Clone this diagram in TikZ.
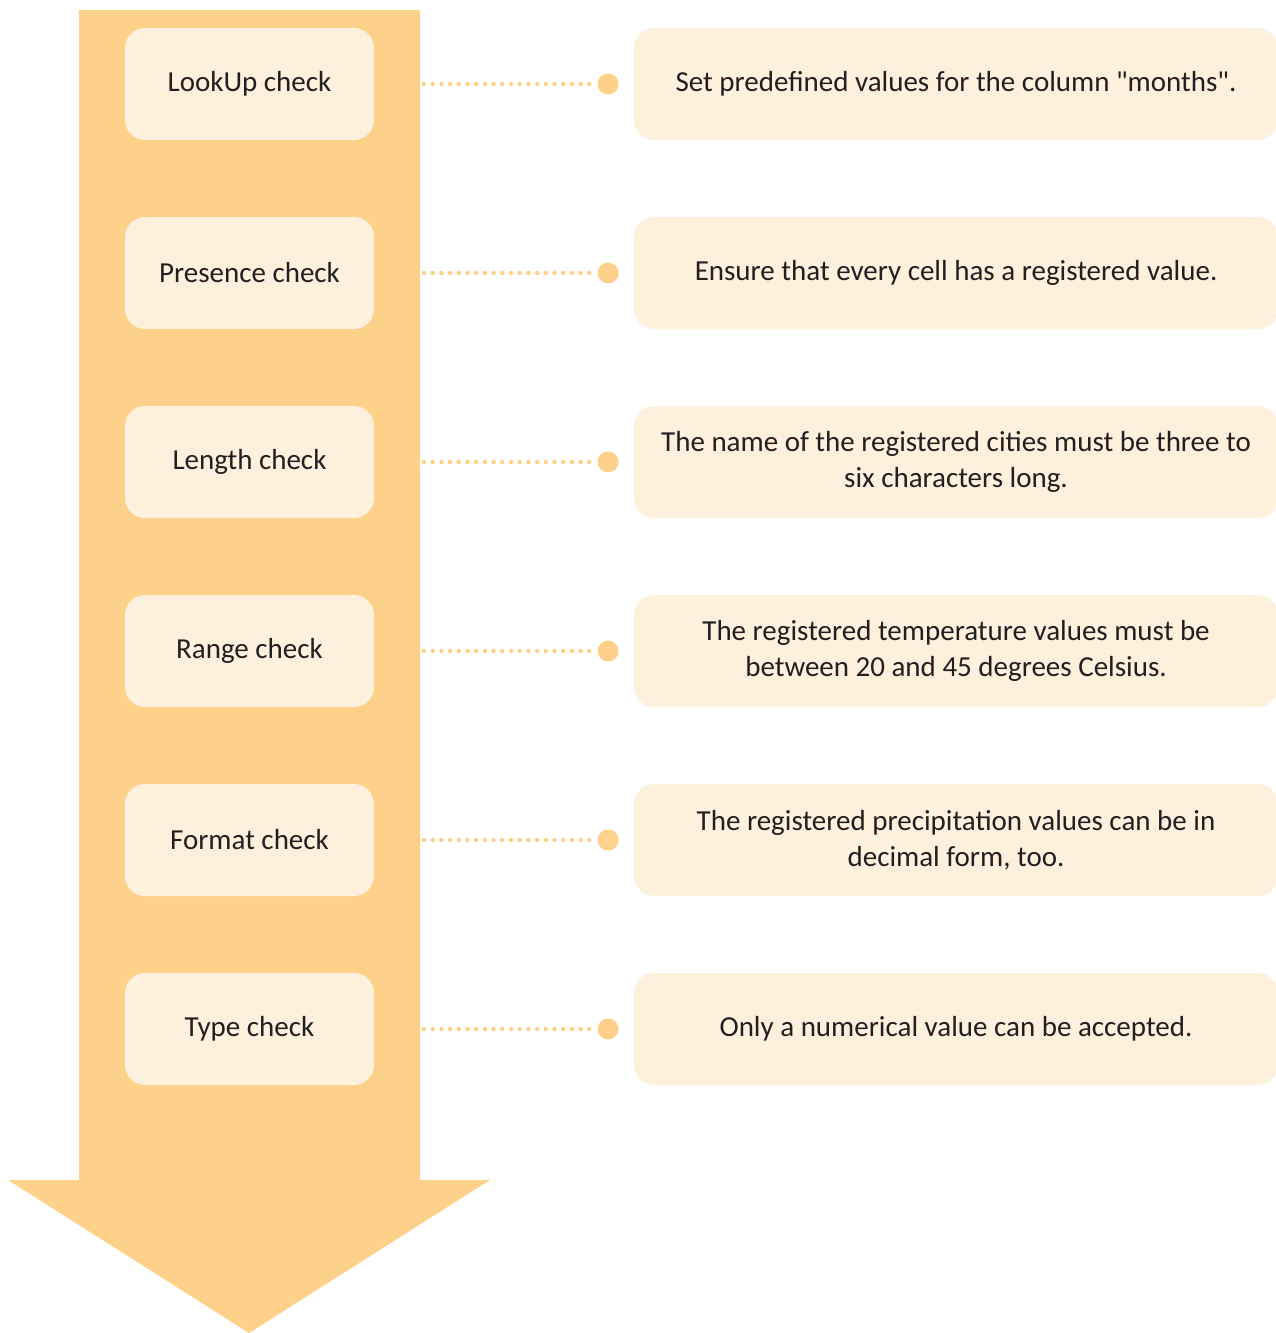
\documentclass[tikz,border=0pt]{standalone}
\usepackage{fontspec}
\setmainfont{Carlito}[Ligatures=TeXOff]
\usetikzlibrary{positioning}

\definecolor{flowarrow}{HTML}{FDD18A}
\definecolor{boxfill}{HTML}{FDF0DC}
\definecolor{inktext}{HTML}{231F20}

\tikzset{
  checkbox/.style={fill=boxfill, rounded corners=20pt, minimum width=249pt,
    minimum height=112pt, inner sep=0pt, text=inktext,
    font=\fontsize{29}{36}\selectfont},
  rulebox/.style={fill=boxfill, rounded corners=20pt, minimum width=644pt,
    minimum height=112pt, inner sep=0pt, align=center,
    text=inktext, font=\fontsize{29}{36}\selectfont},
  enddot/.style={circle, fill=flowarrow, minimum size=21pt, inner sep=0pt},
  dotline/.style={flowarrow, line width=4.5pt, line cap=round,
    dash pattern=on 0pt off 8.7pt},
}

\begin{document}
\begin{tikzpicture}[x=1pt, y=-1pt]
  \useasboundingbox (0,0) rectangle (1276,1333);
  % Big downward arrow behind the checks
  \fill[flowarrow] (79,10) -- (420,10) -- (420,1180) -- (490,1180)
    -- (249,1333) -- (8,1180) -- (79,1180) -- cycle;

  % Checks on the arrow
  \node[checkbox] (lookup)   at (249.5,84)   {LookUp check};
  \node[checkbox] (presence) at (249.5,273)  {Presence check};
  \node[checkbox] (length)   at (249.5,462)  {Length check};
  \node[checkbox] (range)    at (249.5,651)  {Range check};
  \node[checkbox] (format)   at (249.5,840)  {Format check};
  \node[checkbox] (type)     at (249.5,1029) {Type check};

  % Descriptions on the right
  \node[rulebox] (lookupR)   at (956,84)   {Set predefined values for the column "months".};
  \node[rulebox] (presenceR) at (956,273)  {Ensure that every cell has a registered value.};
  \node[rulebox] (lengthR)   at (956,462)  {The name of the registered cities must be three to\\ six characters long.};
  \node[rulebox] (rangeR)    at (956,651)  {The registered temperature values must be\\ between 20 and 45 degrees Celsius.};
  \node[rulebox] (formatR)   at (956,840)  {The registered precipitation values can be in\\ decimal form, too.};
  \node[rulebox] (typeR)     at (956,1029) {Only a numerical value can be accepted.};

  % Round ends of the dotted leaders
  \node[enddot, left=15pt of lookupR]   (lookupD)   {};
  \node[enddot, left=15pt of presenceR] (presenceD) {};
  \node[enddot, left=15pt of lengthR]   (lengthD)   {};
  \node[enddot, left=15pt of rangeR]    (rangeD)    {};
  \node[enddot, left=15pt of formatR]   (formatD)   {};
  \node[enddot, left=15pt of typeR]     (typeD)     {};

  % Leaders start at the arrow's right edge
  \coordinate (lookupE)   at (424,84);
  \coordinate (presenceE) at (424,273);
  \coordinate (lengthE)   at (424,462);
  \coordinate (rangeE)    at (424,651);
  \coordinate (formatE)   at (424,840);
  \coordinate (typeE)     at (424,1029);

  \draw[dotline] (lookupE)   -- (lookupD);
  \draw[dotline] (presenceE) -- (presenceD);
  \draw[dotline] (lengthE)   -- (lengthD);
  \draw[dotline] (rangeE)    -- (rangeD);
  \draw[dotline] (formatE)   -- (formatD);
  \draw[dotline] (typeE)     -- (typeD);
\end{tikzpicture}
\end{document}
